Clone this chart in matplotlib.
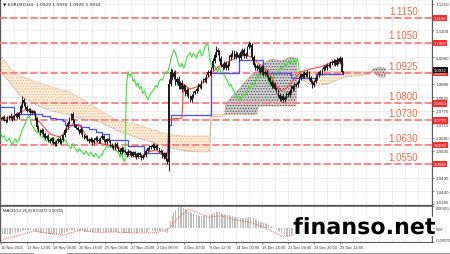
import matplotlib
matplotlib.use('Agg')
import matplotlib.pyplot as plt
import numpy as np
from matplotlib import patheffects as pe
from matplotlib.transforms import blended_transform_factory
from matplotlib.lines import Line2D

NARROW = ['Liberation Sans Narrow', 'Liberation Sans', 'DejaVu Sans']
plt.rcParams['font.family'] = NARROW

# ---------------- data (prices in pips above 1.0000) ----------------
first_open = 735
closes = [738, 745, 732, 728, 740, 750, 742, 736, 748, 755, 744,
          760, 790, 815, 800, 785,
          770, 775, 762, 768, 760,
          740, 705, 690, 680, 690, 675,
          660, 668, 650, 645, 658, 640, 632, 645, 655, 640, 650,
          670, 690, 705, 720, 740, 755, 730,
          710, 700, 690, 680, 695, 670, 660, 665, 650, 645, 655, 640, 650,
          660, 650, 645, 658, 665, 648, 640, 652, 645,
          630, 625, 615, 635, 620, 610, 600, 615, 605,
          600, 590, 605, 595, 585, 600, 590, 580, 595, 588, 575, 585, 590,
          605, 615, 625, 620, 630, 618, 625, 615,
          605, 600, 580, 595, 570, 560,
          880, 930,
          910, 925, 890, 900, 870, 885,
          860, 870, 840, 855, 830, 815, 830, 845,
          850, 860, 875, 868, 890, 900, 895, 915, 930, 925, 945,
          975, 1000, 1020, 1010,
          985, 960, 950, 965, 945, 960,
          990, 1000, 1010, 990, 1005,
          1000, 985, 1010, 1020, 995, 1005, 1030,
          1045, 1040,
          990, 960, 945, 955,
          940, 930, 950, 920, 930, 915, 905,
          890, 870, 880, 860, 850, 835, 820, 830, 815, 825, 840, 835,
          850, 870, 860, 880, 875, 890,
          905, 920, 910, 925, 915, 930,
          905, 890, 875, 890,
          905, 915, 930, 925, 940, 950, 945, 960, 955,
          970, 965, 975, 960, 980, 970, 985,
          930, 932]

wick_up = [6, 4, 8, 5, 7, 3, 9, 5, 4, 6, 8, 5, 7, 16, 6, 4, 8, 5, 6, 7,
           4, 9, 5, 6, 3, 8, 5, 7, 4, 6, 9, 5, 4, 7, 6, 5, 8, 4, 6, 9,
           5, 7, 6, 5, 8, 6, 4, 7, 5, 9, 6, 4, 7, 5, 6, 8, 4, 6, 7, 5,
           6, 4, 8, 5, 7, 6, 5, 4, 8, 6, 5, 7, 4, 6, 9, 5, 6, 4, 7, 5,
           8, 6, 4, 5, 7, 6, 4, 8, 5, 6, 7, 5, 4, 8, 6, 5, 7, 4, 6, 8,
           5, 6, 4, 20, 15, 12, 10, 14, 9, 11, 8, 10, 9, 7, 8, 10, 6, 9, 8, 7,
           6, 9, 7, 8, 6, 10, 7, 9, 8, 6, 12, 10, 15, 9, 8, 10, 7, 9, 8, 10,
           9, 7, 10, 8, 9, 7, 8, 10, 9, 7, 8, 6, 12, 8, 10, 9, 7, 8, 6, 9,
           7, 8, 6, 9, 7, 8, 6, 7, 9, 6, 8, 7, 6, 8, 7, 9, 6, 8, 7, 6,
           8, 6, 7, 9, 6, 8, 7, 6, 8, 5, 7, 6, 8, 6, 7, 5, 8, 6, 7, 9,
           6, 7, 5, 8, 6, 7, 9, 6, 8, 5, 3]

wick_dn = [5, 8, 6, 9, 4, 7, 5, 8, 6, 4, 7, 6, 5, 8, 9, 6, 5, 7, 8, 6,
           7, 6, 12, 8, 9, 6, 10, 7, 5, 8, 6, 9, 7, 5, 6, 8, 7, 6, 5, 7,
           6, 8, 5, 7, 9, 8, 6, 5, 7, 6, 9, 5, 8, 6, 7, 5, 9, 6, 5, 8,
           7, 6, 5, 8, 6, 7, 5, 9, 6, 8, 7, 5, 6, 8, 7, 6, 5, 8, 6, 7,
           6, 5, 8, 7, 6, 9, 7, 5, 6, 8, 5, 7, 6, 5, 8, 6, 7, 5, 8, 6,
           7, 8, 10, 36, 10, 12, 9, 14, 10, 12, 9, 11, 8, 10, 9, 8, 10, 7, 9, 8,
           7, 8, 6, 9, 7, 8, 10, 7, 9, 8, 7, 9, 8, 10, 12, 9, 11, 8, 9, 7,
           8, 10, 9, 7, 9, 8, 10, 7, 9, 8, 7, 9, 8, 10, 12, 9, 8, 7, 9, 8,
           7, 9, 8, 6, 8, 9, 7, 8, 6, 9, 7, 8, 9, 10, 8, 6, 7, 8, 6, 7,
           6, 8, 7, 5, 8, 6, 7, 8, 6, 9, 7, 10, 8, 6, 7, 5, 8, 6, 7, 6,
           7, 5, 8, 6, 7, 5, 6, 8, 5, 6, 10]

tenkan_bars = [0, 6, 12, 16, 20, 23, 26, 30, 36, 40, 44, 48, 51, 54, 58, 63, 66, 70, 75, 78,
               83, 87, 90, 95, 99, 102, 103, 104, 111, 112, 116, 120, 125, 129, 133, 139, 145, 151,
               155, 159, 164, 168, 172, 176, 180, 184, 190, 196, 202, 206, 210]
tenkan = [736, 744, 765, 777, 769, 728, 707, 674, 662, 687, 716, 712, 683, 646, 638, 633, 629, 621, 609, 592,
          580, 584, 600, 609, 592, 580, 714, 736, 740, 880, 859, 868, 892, 921, 950, 970, 991, 999,
          983, 958, 933, 880, 851, 868, 901, 929, 942, 950, 967, 971, 958]

kijun_bars = [0, 8, 25, 30, 34, 38, 39, 49, 54, 58, 62, 66, 78, 88, 103, 104, 129, 146, 161, 178, 193, 210]
kijun = [786, 757, 749, 741, 736, 728, 712, 703, 695, 683, 674, 650, 625, 596, 712, 752, 925, 979, 925, 904, 921, 921]

chikou_shift = 26

cloud_bars = [0, 6, 12, 20, 31, 41, 51, 61, 72, 82, 92, 102, 113, 122, 128, 129, 137, 138, 142, 146,
              150, 155, 157, 158, 160, 166, 172, 178, 181, 182, 186, 192, 200, 208, 212, 220, 226, 228, 232, 236]
span_b = [991, 942, 913, 892, 868, 850, 815, 770, 728, 716, 695, 674, 666, 666, 666, 755, 755, 755, 755, 755,
          755, 755, 755, 789, 789, 789, 789, 789, 789, 929, 929, 930, 931, 932, 932, 930, 929, 929, 908, 908]
span_a = [933, 880, 831, 798, 769, 756, 736, 724, 687, 662, 642, 621, 605, 601, 601, 745, 748, 800, 831, 859,
          892, 925, 935, 940, 962, 983, 975, 991, 985, 905, 892, 872, 880, 900, 910, 915, 921, 940, 950, 945]

# MACD main (histogram) and signal, in units of 1e-4
macd_hist = [-26, -25, -25, -24, -23, -22, -22, -21, -20, -19, -19,
             -17, -14, -10, -8, -8, -8, -9, -9, -10, -10,
             -12, -15, -17, -19, -20, -21, -22, -23, -24, -25, -25, -25, -26, -25, -24, -24, -23,
             -21, -18, -15, -12, -9, -7, -8, -10, -11,
             -10, -11, -12, -13, -14, -15, -15, -16, -16, -16, -16, -16, -15, -15, -15,
             -15, -15, -15, -16, -16, -16, -17, -17, -17, -17, -18, -18, -18, -18, -18, -18,
             -18, -18, -18, -18, -18, -18, -18, -17, -17, -17, -16, -15, -14, -12, -11, -10, -10, -10, -11, -11, -12,
             -13, -14, -16, -18,
             2, 30, 52, 68,
             80, 86, 90, 91, 90, 88, 84, 79, 74, 68, 64, 61, 58, 56, 55,
             54, 53, 54, 55, 56, 57, 58, 59, 62, 66, 70, 70, 68, 65, 62, 60, 57, 56, 55, 54, 52,
             50, 49, 48, 47, 46, 46, 45, 45, 46, 48, 49,
             46, 42, 38, 34, 31, 28, 26, 24, 21, 18, 15, 12, 8, 5,
             0, -5, -10, -15, -20, -25, -30, -33, -35, -33,
             -30, -26, -22, -18, -14, -10, -6, -3, 0, 2, 3,
             1, -1, -2, -1, 1, 2, 4, 5, 6, 7, 8, 9, 10, 10, 11, 12, 12, 13, 13, 14, 12, 10]
signal_bars = [0, 20, 38, 49, 59, 69, 82, 94, 102, 108, 115, 120, 127, 135, 143, 153, 163, 173, 179, 190, 204, 210]
signal = [-51, -12, -29, -7, -19, -15, -19, -19, -7, 40, 81, 70, 47, 54, 37, 26, 0, -37, -29, 3, 15, 16]

levels = [1.1150, 1.1050, 1.0925, 1.0800, 1.0730, 1.0630, 1.0550]
last_price = 1.0932
price_grid = [1.0385, 1.0440, 1.0495, 1.0550, 1.0605, 1.0660, 1.0715, 1.0770, 1.0825,
              1.0880, 1.0935, 1.0990, 1.1045, 1.1100, 1.1155, 1.1210]
price_labels_shown = [1.0385, 1.0440, 1.0495, 1.0605, 1.0660, 1.0715, 1.0770, 1.0825,
                      1.0880, 1.0990, 1.1100, 1.1210]
time_bars = [0, 16, 32, 48, 64, 80, 96, 112, 128, 144, 160, 176, 192, 208]
time_labels = ["10 Nov 2015", "13 Nov 12:00", "18 Nov 00:00", "20 Nov 16:00", "25 Nov 04:00",
               "27 Nov 20:00", "2 Dec 08:00", "4 Dec 20:00", "9 Dec 12:00", "14 Dec 00:00",
               "16 Dec 16:00", "21 Dec 04:00", "23 Dec 20:00", "29 Dec 12:00"]
title_text = "\u25bc EURUSD,H4  1.0929 1.0935 1.0920 1.0932"
macd_text = "MACD(12,26,9) 0.00072 0.00255"
macd_ticks = [-0.00579, 0.0, 0.00951]
macd_tick_labels = ["-0.00579", "0.00", "0.00951"]


def px(v):
    return 1.0 + np.asarray(v, dtype=float) / 1e4


# ---------------- figure ----------------
fig = plt.figure(figsize=(4.5, 2.55), dpi=100)
fig.patch.set_facecolor('white')
ax = fig.add_axes([0, 0.19216, 0.96, 0.80784])
axm = fig.add_axes([0, 0.04706, 0.96, 0.14118], sharex=ax)

x0, x1 = -0.6, 264.4
ax.set_xlim(x0, x1)
ax.set_ylim(1.03827, 1.12293)

# grid
grid_kw = dict(color='#c9c9c9', lw=0.5, linestyle=(0, (1, 1.5)), zorder=0)
for gb in range(0, 265, 8):
    ax.axvline(gb, **grid_kw)
    axm.axvline(gb, **grid_kw)
for gp in price_grid:
    ax.axhline(gp, **grid_kw)

# cloud
cb = np.array(cloud_bars, dtype=float)
sa = px(span_a)
sb = px(span_b)
plt.rcParams['hatch.linewidth'] = 0.5
ax.fill_between(cb, sa, sb, where=sb >= sa, interpolate=True,
                facecolor='#feeedd', edgecolor='#f2b07a', hatch='......', lw=0, zorder=1)
ax.fill_between(cb, sa, sb, where=sa > sb, interpolate=True,
                facecolor='#d0d0d0', edgecolor='#3c3c3c', hatch='......', lw=0, zorder=1)
ax.plot(cb, sb, color='#f0a060', lw=0.6, linestyle=(0, (1, 1)), zorder=2)
ax.plot(cb, sa, color='#b08860', lw=0.6, linestyle=(0, (1, 1)), zorder=2)

# level lines
for lv in levels:
    ax.axhline(lv, color='#f47f7f', lw=1.3, dashes=(4, 1.6), zorder=3)
    ax.annotate(f"{lv:.4f}", xy=(256, lv), xytext=(0, 1.6), textcoords='offset points',
                ha='right', va='bottom', fontsize=7, color='#f36d45', zorder=6)

# candles
n = len(closes)
bars = np.arange(n)
c = np.array(closes, dtype=float)
o = np.concatenate([[first_open], c[:-1]])
hi = np.maximum(o, c) + np.array(wick_up)
lo = np.minimum(o, c) - np.array(wick_dn)
ax.vlines(bars, px(lo), px(hi), color='#1c1c1c', lw=0.7, zorder=5)
ax.bar(bars, px(np.abs(c - o)) - 1.0, bottom=px(np.minimum(o, c)), width=0.7,
       color='#1c1c1c', lw=0, zorder=5)

# ichimoku lines
ax.plot(bars[chikou_shift:] - chikou_shift, px(c[chikou_shift:]), color='#3ee03e', lw=0.8, zorder=4)
ax.plot(kijun_bars, px(kijun), color='#4a4aff', lw=0.9, drawstyle='steps-post', zorder=4)
ax.plot(tenkan_bars, px(tenkan), color='#ff4545', lw=0.8, zorder=4)

# axes styling main
ax.yaxis.tick_right()
ax.set_yticks(price_labels_shown)
ax.set_yticklabels([f"{v:.4f}" for v in price_labels_shown])
ax.tick_params(axis='y', labelsize=3.2, length=1.5, width=0.4, pad=1, colors='#333333')
for lbl in ax.get_yticklabels():
    if lbl.get_text() == "1.0385":
        lbl.set_va('bottom')
ax.tick_params(axis='x', labelbottom=False, length=0)
for s in ax.spines.values():
    s.set_color('#5a5a5a')
    s.set_linewidth(0.8)

trans = blended_transform_factory(ax.transAxes, ax.transData)
for lv in levels:
    ax.text(1.004, lv, f"{lv:.4f}", transform=trans, fontsize=3.1, color='white', ha='left', va='center',
            bbox=dict(boxstyle='square,pad=0.25', fc='#ff2b2b', ec='none'), clip_on=False, zorder=10)
ax.annotate(f"{last_price:.4f}", xy=(1.004, last_price), xycoords=trans, xytext=(0, 1.0),
            textcoords='offset points', fontsize=3.1, color='white', ha='left', va='center',
            bbox=dict(boxstyle='square,pad=0.25', fc='#111111', ec='none'), annotation_clip=False, zorder=11)

ax.text(0.006, 0.99, title_text, transform=ax.transAxes, fontsize=3.2, color='#222222',
        ha='left', va='top', family=['DejaVu Sans'], zorder=12)

# MACD panel
axm.set_ylim(-0.00579, 0.00951)
axm.bar(bars, np.array(macd_hist) * 1e-4, width=0.55, color='#bdbdbd', lw=0, zorder=2)
axm.plot(signal_bars, np.array(signal) * 1e-4, color='#ff5a5a', lw=0.7, linestyle=(0, (1, 1)), zorder=3)
axm.yaxis.tick_right()
axm.set_yticks(macd_ticks)
axm.set_yticklabels(macd_tick_labels)
axm.tick_params(axis='y', labelsize=2.9, colors='#333333', length=1.5, width=0.4, pad=1)
ylbls = axm.get_yticklabels()
ylbls[0].set_va('bottom')
ylbls[-1].set_va('top')
axm.set_xticks(time_bars)
axm.set_xticklabels(time_labels)
for lbl in axm.get_xticklabels():
    lbl.set_ha('left')
axm.tick_params(axis='x', labelsize=2.8, colors='#333333', length=1.5, width=0.4, pad=0.6)
for s in axm.spines.values():
    s.set_color('#5a5a5a')
    s.set_linewidth(0.8)
axm.spines['top'].set_linewidth(1.2)
axm.text(0.006, 0.95, macd_text, transform=axm.transAxes, fontsize=3.0, color='#222222',
         ha='left', va='top', zorder=12)

# bottom tab strip
yb = 1 - 253.5 / 255
fig.add_artist(Line2D([0, 33 / 450], [yb, yb], color='#9a9a9a', lw=0.8))
fig.add_artist(Line2D([67 / 450, 1], [yb, yb], color='#9a9a9a', lw=0.8))

# watermark
fig.text(364.5 / 450, 1 - 235 / 255, "finanso.net", fontsize=16, fontweight='bold',
         family=['DejaVu Sans'], color='black', ha='center', va='baseline', zorder=20,
         path_effects=[pe.withStroke(linewidth=3, foreground='white')])

fig.savefig('out.png', dpi=100, facecolor='white')
